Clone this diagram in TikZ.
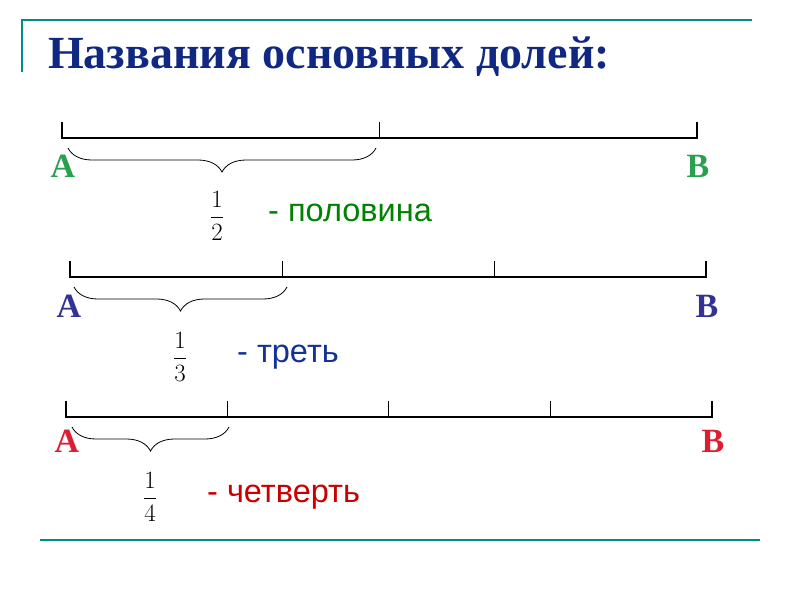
\documentclass[tikz,border=0pt]{standalone}
\usepackage{fontspec}
\setmainfont{Liberation Serif}
\setsansfont{Liberation Sans}
\usetikzlibrary{decorations.pathreplacing}
\definecolor{teal1}{RGB}{0,140,140}
\definecolor{ttl}{RGB}{16,40,130}
\definecolor{grn}{RGB}{40,160,80}
\definecolor{grn2}{RGB}{0,130,0}
\definecolor{blu}{RGB}{50,50,150}
\definecolor{blu2}{RGB}{20,50,150}
\definecolor{rd}{RGB}{220,30,50}
\definecolor{rd2}{RGB}{200,0,0}
\tikzset{seg/.style={line width=1.6pt},
 brc/.style={decorate,decoration={brace,amplitude=24pt,mirror},line width=0.8pt},
 pt/.style={font=\fontsize{34}{34}\selectfont\bfseries,inner sep=0pt},
 fr/.style={font=\fontsize{29}{29}\selectfont,inner sep=0pt},
 lbl/.style={font=\sffamily\fontsize{32.5}{32.5}\selectfont,anchor=west,inner sep=0pt}}
\begin{document}
\begin{tikzpicture}[x=1pt,y=-1pt]
\useasboundingbox (0,0) rectangle (800,600);
\draw[teal1,line width=1.2pt] (22,72) -- (22,20) -- (752,20);
\draw[teal1,line width=1.2pt] (40,540) -- (760,540);
\node[anchor=base west,inner sep=0pt,text=ttl,font=\fontsize{46}{46}\selectfont\bfseries] (t) at (48,68) {Названия основных долей:};
% line 1
\draw[seg] (62,122) -- (62,138) -- (697,138) -- (697,122);
\draw[line width=1pt] (379,122) -- (379,138);
\draw[brc] (68,148) -- (376,148);
\node[pt,text=grn] (a1) at (63,166) {A};
\node[pt,text=grn] (b1) at (698,166) {B};
\node[fr] (f1) at (217,216) {$\displaystyle\frac{1}{2}$};
\node[lbl,text=grn2] (l1) at (268,213) {- половина};
% line 2
\draw[seg] (70,261) -- (70,277) -- (706,277) -- (706,261);
\draw[line width=1pt] (282,261) -- (282,277) (494,261) -- (494,277);
\draw[brc] (74,287) -- (287,287);
\node[pt,text=blu] (a2) at (69,306) {A};
\node[pt,text=blu] (b2) at (707,306) {B};
\node[fr] (f2) at (180,357) {$\displaystyle\frac{1}{3}$};
\node[lbl,text=blu2] (l2) at (237,357) {- треть};
% line 3
\draw[seg] (66,401) -- (66,417) -- (712,417) -- (712,401);
\draw[line width=1pt] (227,401) -- (227,417) (388,401) -- (388,417) (550,401) -- (550,417);
\draw[brc] (72,427) -- (229,427);
\node[pt,text=rd] (a3) at (67,441) {A};
\node[pt,text=rd] (b3) at (713,441) {B};
\node[fr] (f3) at (150,497) {$\displaystyle\frac{1}{4}$};
\node[lbl,text=rd2] (l3) at (207,497) {- четверть};
\end{tikzpicture}
\end{document}
